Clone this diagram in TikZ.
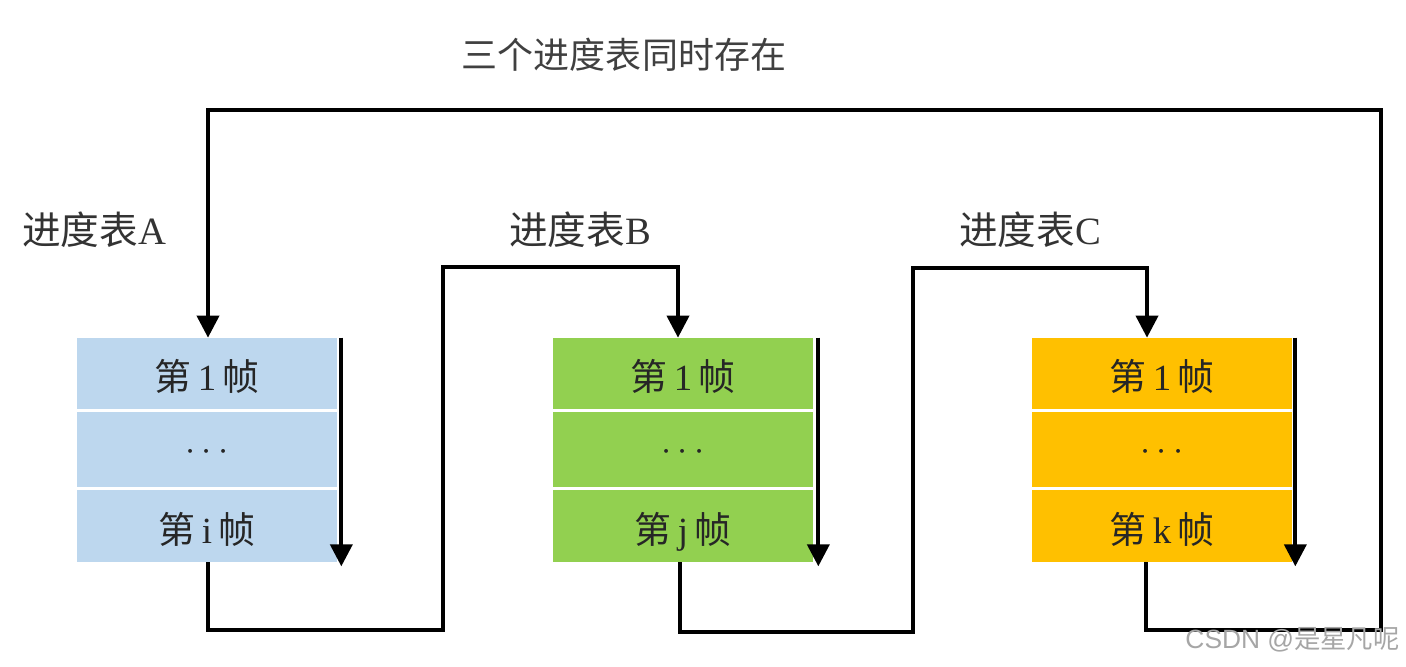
\documentclass[tikz,border=0pt]{standalone}
\usepackage{fontspec}
\setmainfont{Liberation Serif}
\newfontfamily\cjk{Noto Sans CJK SC}
\newfontfamily\wmsans{Liberation Sans}
\usetikzlibrary{arrows.meta}
\definecolor{cA}{HTML}{BDD7EE}
\definecolor{cB}{HTML}{92D050}
\definecolor{cC}{HTML}{FFC000}
\tikzset{
  row/.style={draw=none, minimum width=5.2cm, inner sep=0pt, text=black!85,
    font=\fontsize{21}{24}\selectfont, text depth=0pt},
  lbl/.style={text=black!80, font=\fontsize{22}{26}\selectfont, inner sep=0pt},
  wire/.style={line width=2.2pt, line join=miter},
  arr/.style={wire, -{Triangle[width=0.44cm,length=0.44cm]}},
}
\newcommand{\fr}[1]{\raisebox{-0.06cm}{{\cjk 第}\,#1\,{\cjk 帧}}}
\newcommand{\dts}{\raisebox{-0.1cm}{$\cdots$}}
\begin{document}
\begin{tikzpicture}[x=0.02cm,y=-0.02cm]
\useasboundingbox (0,0) rectangle (1406,666);
% title
\node[lbl, text=black!75, font=\fontsize{20.5}{24}\selectfont] (title) at (624,55) {\cjk 三个进度表同时存在};
% labels
\node[lbl] (labA) at (94,230) {{\cjk 进度表}A};
\node[lbl] (labB) at (580,230) {{\cjk 进度表}B};
\node[lbl] (labC) at (1030,230) {{\cjk 进度表}C};
% table A
\node[row, fill=cA, minimum height=1.42cm] (A1) at (207,373.5) {\fr{1}};
\node[row, fill=cA, minimum height=1.5cm] (A2) at (207,449.5) {\dts};
\node[row, fill=cA, minimum height=1.44cm] (A3) at (207,526) {\fr{i}};
% table B
\node[row, fill=cB, minimum height=1.42cm] (B1) at (683,373.5) {\fr{1}};
\node[row, fill=cB, minimum height=1.5cm] (B2) at (683,449.5) {\dts};
\node[row, fill=cB, minimum height=1.44cm] (B3) at (683,526) {\fr{j}};
% table C
\node[row, fill=cC, minimum height=1.42cm] (C1) at (1162,373.5) {\fr{1}};
\node[row, fill=cC, minimum height=1.5cm] (C2) at (1162,449.5) {\dts};
\node[row, fill=cC, minimum height=1.44cm] (C3) at (1162,526) {\fr{k}};
% side arrows
\draw[arr] ([xshift=0.08cm]A1.north east) -- ([xshift=0.08cm,yshift=-0.08cm]A3.south east);
\draw[arr] ([xshift=0.1cm]B1.north east) -- ([xshift=0.1cm,yshift=-0.08cm]B3.south east);
\draw[arr] ([xshift=0.06cm]C1.north east) -- ([xshift=0.06cm,yshift=-0.08cm]C3.south east);
% loop coordinates
\coordinate (pAB1) at (443,630);
\coordinate (pAB2) at (443,267);
\coordinate (pBC1) at (913,632);
\coordinate (pBC2) at (913,268);
\coordinate (pCA1) at (1381,630);
\coordinate (pCA2) at (1381,110);
% A -> B
\draw[arr] ([xshift=0.02cm]A3.south) |- (pAB1) -- (pAB2) -| ([xshift=-0.1cm]B1.north);
% B -> C
\draw[arr] ([xshift=-0.06cm]B3.south) |- (pBC1) -- (pBC2) -| ([xshift=-0.3cm]C1.north);
% C -> A
\draw[arr] ([xshift=-0.32cm]C3.south) |- (pCA1) -- (pCA2) -| ([xshift=0.02cm]A1.north);
% watermark
\node[text=black!35, font=\fontsize{15}{18}\selectfont, inner sep=0pt, anchor=east] (wm) at (1400,640) {{\wmsans CSDN @}{\cjk 是星凡呢}};
\end{tikzpicture}
\end{document}
